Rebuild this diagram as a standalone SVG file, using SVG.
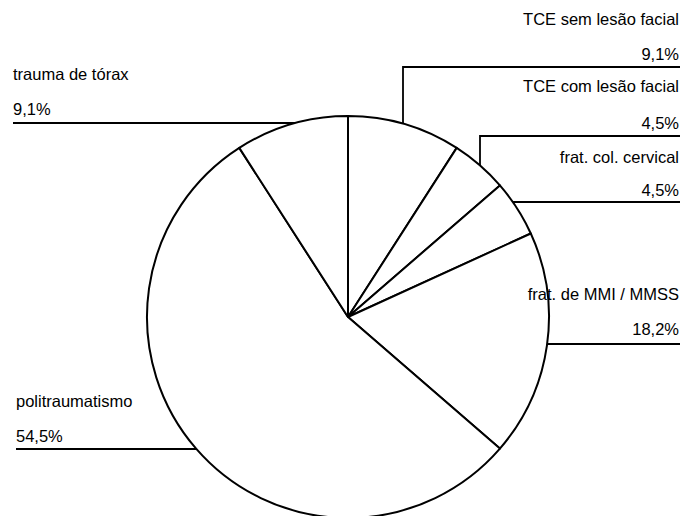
<svg xmlns="http://www.w3.org/2000/svg" width="683" height="516" viewBox="0 0 683 516">
<style>
  .lbl { font-family: "Liberation Sans", Arial, sans-serif; font-size: 16.5px; fill: #000; }
  .r { text-anchor: end; }
  .slice { fill: #fff; stroke: #000; stroke-width: 2; stroke-linejoin: round; }
  .leader { fill: none; stroke: #000; stroke-width: 1.8; }
</style>
<rect width="683" height="516" fill="#fff"/>
<g id="pie">
  <g id="slice-tce-sem">
    <path class="slice" d="M348,317 L348,116 A201,201 0 0 1 456.7,147.9 Z"/>
  </g>
  <g id="slice-tce-com">
    <path class="slice" d="M348,317 L456.7,147.9 A201,201 0 0 1 499.9,185.4 Z"/>
  </g>
  <g id="slice-frat-col">
    <path class="slice" d="M348,317 L499.9,185.4 A201,201 0 0 1 530.8,233.5 Z"/>
  </g>
  <g id="slice-frat-mmi">
    <path class="slice" d="M348,317 L530.8,233.5 A201,201 0 0 1 499.9,448.6 Z"/>
  </g>
  <g id="slice-politrauma">
    <path class="slice" d="M348,317 L499.9,448.6 A201,201 0 1 1 239.3,147.9 Z"/>
  </g>
  <g id="slice-torax">
    <path class="slice" d="M348,317 L239.3,147.9 A201,201 0 0 1 348,116 Z"/>
  </g>
</g>
<g id="connectors">
  <path class="leader" d="M403,124 V67 H680"/>
  <path class="leader" d="M480,165 V136 H680"/>
  <path class="leader" d="M513,202 H680"/>
  <path class="leader" d="M547,344 H680"/>
  <path class="leader" d="M13,123 H295"/>
  <path class="leader" d="M16,449 H196"/>
</g>
<g id="label-tce-sem">
  <text class="lbl r" x="679" y="25">TCE sem lesão facial</text>
  <text class="lbl r" x="679" y="60">9,1%</text>
</g>
<g id="label-tce-com">
  <text class="lbl r" x="679" y="92">TCE com lesão facial</text>
  <text class="lbl r" x="679" y="129">4,5%</text>
</g>
<g id="label-frat-col">
  <text class="lbl r" x="679" y="163">frat. col. cervical</text>
  <text class="lbl r" x="679" y="196">4,5%</text>
</g>
<g id="label-frat-mmi">
  <text class="lbl r" x="679" y="300">frat. de MMI / MMSS</text>
  <text class="lbl r" x="679" y="335">18,2%</text>
</g>
<g id="label-torax">
  <text class="lbl" x="13" y="80">trauma de tórax</text>
  <text class="lbl" x="13" y="115">9,1%</text>
</g>
<g id="label-politrauma">
  <text class="lbl" x="16" y="407">politraumatismo</text>
  <text class="lbl" x="16" y="442">54,5%</text>
</g>
</svg>
